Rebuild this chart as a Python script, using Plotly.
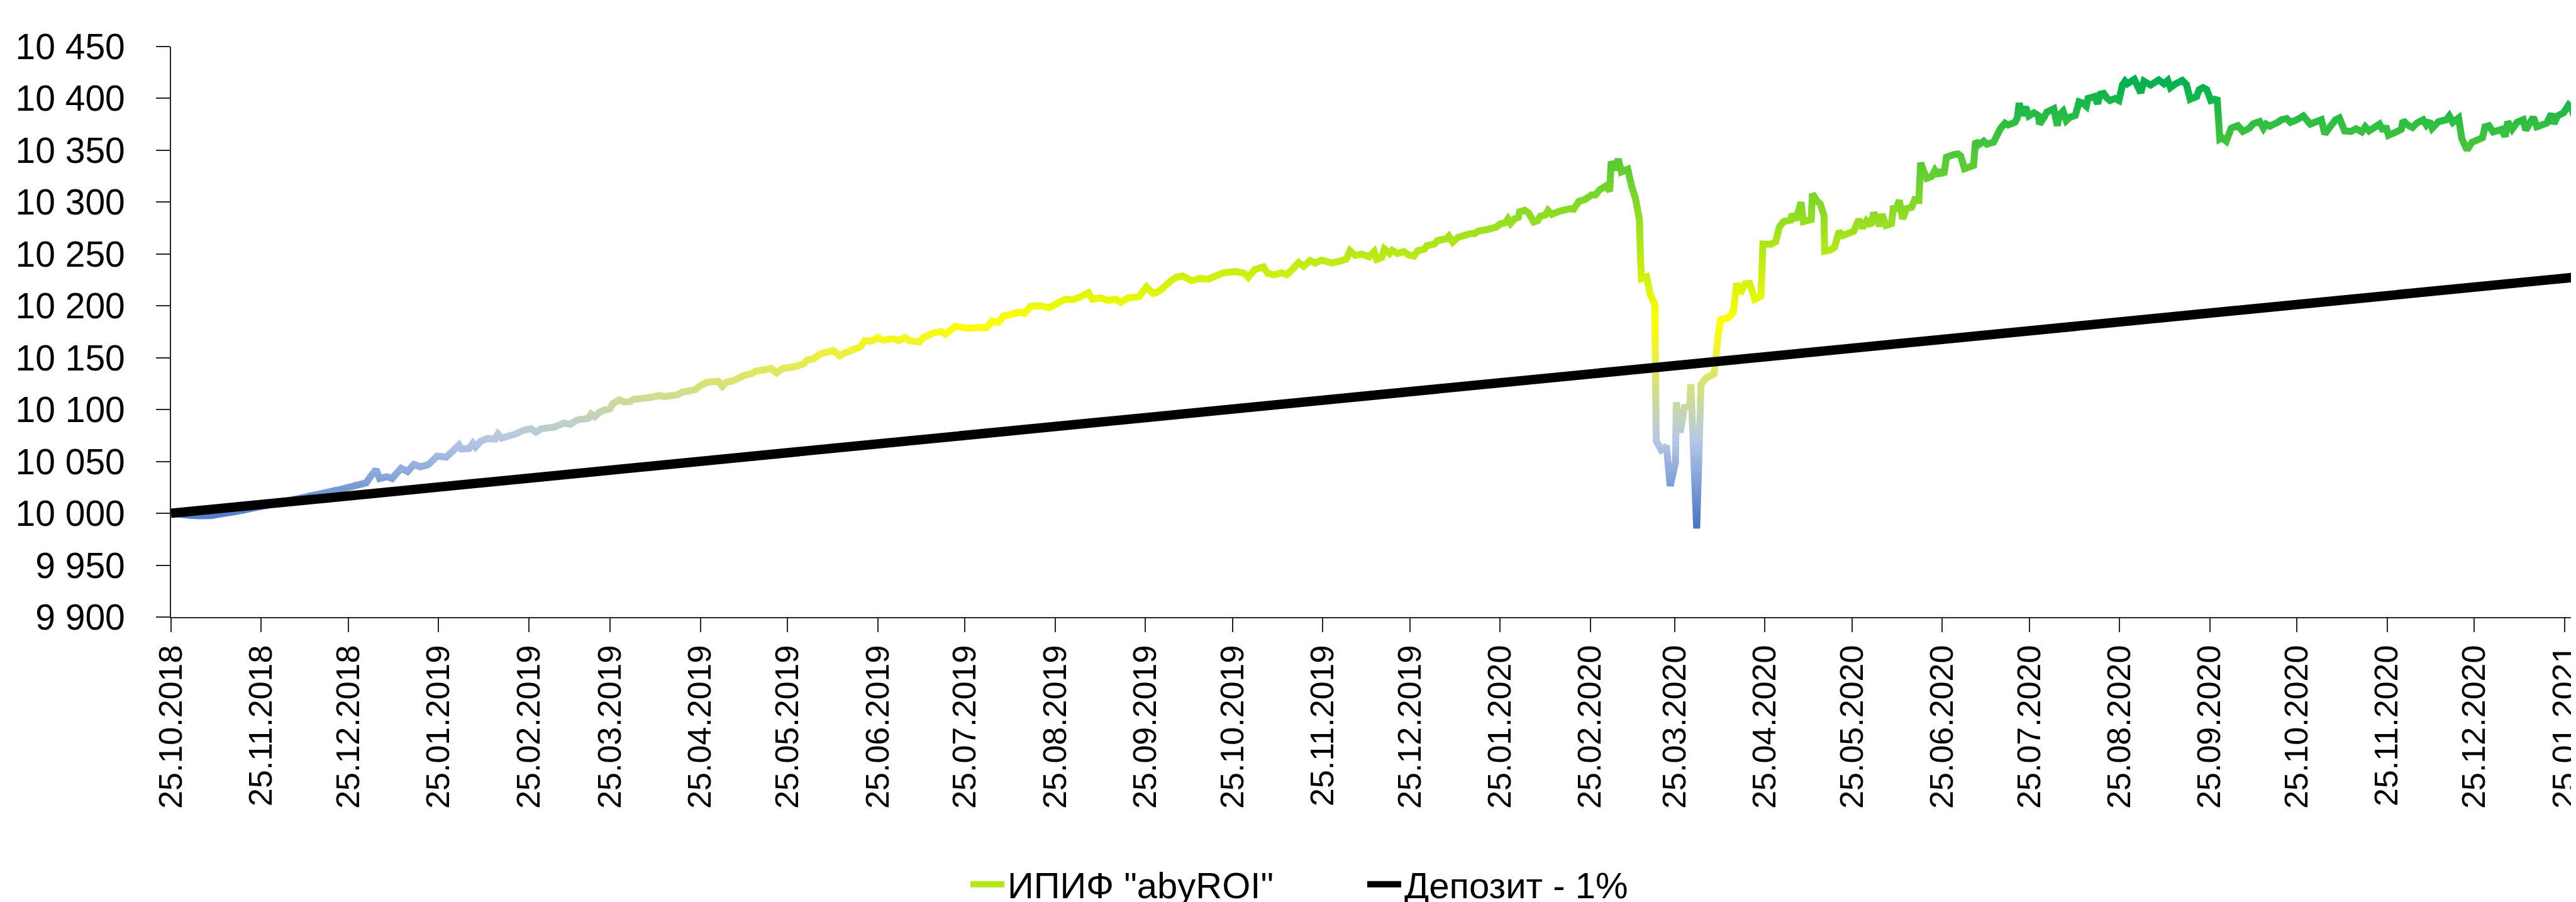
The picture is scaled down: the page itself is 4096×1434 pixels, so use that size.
import pandas as pd
import plotly.graph_objects as go

# ---------------- data ----------------
START_DATE = "2018-10-25"

# days since 25.10.2018
fund_days = [
    0, 5.1, 9.5, 13.5, 22.8, 33.4, 45.8, 58.2, 67.1, 68.4,
    70.5, 71.7, 74.2, 76, 79.1, 81.3, 83.5, 85.7, 88.4, 91.5,
    94.6, 97.2, 99, 99.9, 102.5, 103.8, 104.7, 106.5, 108.7, 111.4,
    112.4, 113.6, 118.5, 121.1, 123.8, 125.5, 127.3, 131.7, 135.1, 137.3,
    139.5, 143.5, 144.4, 145.7, 147.1, 148.8, 150.9, 151.9, 154.1, 155.9,
    157.7, 159, 161.7, 165.2, 167.9, 169.6, 174.1, 175.8, 180.3, 182,
    184.2, 188.2, 189.6, 190.9, 193.5, 197.1, 199.7, 201.1, 203.3, 206.4,
    208.2, 210.4, 214.8, 217.5, 218.8, 221, 223.2, 225.4, 227.6, 229.9,
    231.6, 235.2, 237, 238.5, 240.9, 243.1, 244.9, 248.4, 250.2, 252.4,
    253.8, 257.3, 258.6, 262.6, 264.8, 266.2, 267.9, 269.7, 274, 277.4,
    280.5, 282.3, 284.5, 286.3, 288.5, 291.6, 293.4, 295.6, 298.7, 300.5,
    302.2, 304.9, 307.5, 310.2, 312.9, 315.5, 316.8, 319.5, 322.2, 324.8,
    326.6, 329.2, 332.8, 335.4, 337.7, 339.9, 343.9, 345.6, 347.8, 350.9,
    353.6, 356.7, 361.6, 366, 369.1, 370.4, 372.6, 375.6, 377.1, 379.3,
    381.9, 383.7, 385.9, 387.7, 389.5, 391.7, 393.4, 395.7, 399.2, 404.1,
    405.4, 407.2, 409.4, 412, 413.7, 414.6, 416.3, 417.2, 419, 419.9,
    421.7, 423.9, 425.6, 427.4, 428.7, 431, 431.8, 434.5, 435.4, 438.5,
    439.4, 440.7, 442.5, 444.7, 446.9, 448.2, 449.5, 453.1, 455.7, 457.1,
    458.8, 459.7, 460.6, 461.9, 463.3, 463.7, 465.5, 466.8, 468.6, 469.9,
    470.8, 472.6, 473.5, 474.8, 477.4, 481, 482.3, 484.1, 486.3, 488.5,
    489.8, 491.2, 493.4, 494.7, 495.2, 496.5, 497.6, 498.7, 500.9, 502.2,
    503.6, 504.9, 505.3, 505.6, 507.4, 508.6, 510.2, 510.7, 512.4, 514.2,
    515.5, 517.3, 517.6, 518.9, 520.4, 522.2, 522.6, 524.6, 526.1, 527.9,
    530.6, 531.9, 532.8, 535.4, 537.2, 538.4, 539.6, 541.2, 542.8, 544.6,
    546.7, 547.4, 550.2, 551.8, 553, 554.5, 556.9, 557.4, 558.7, 560.5,
    561.3, 564, 564.4, 565.8, 567.1, 568.4, 568.6, 570.6, 572, 573.6,
    574.8, 578.6, 580.4, 581.7, 583, 584.5, 585.5, 587.5, 588.3, 589.7,
    591.6, 592.2, 593.2, 594.3, 595.4, 596.8, 598.5, 599.6, 601, 601.6,
    602.8, 603.7, 605.4, 606.5, 607.6, 608.3, 609.6, 610.5, 613.1, 614.5,
    615.4, 616.7, 619.8, 620.5, 621.6, 623.3, 624.4, 626.7, 627.9, 629.1,
    630.6, 631.7, 634, 634.8, 635.5, 636.4, 637.7, 638.8, 640.6, 642.1,
    642.5, 644.1, 645, 647.4, 648.6, 649.4, 650.6, 651.7, 653, 654.8,
    656.1, 657.4, 658.6, 659.2, 661.4, 662.5, 663.4, 664.5, 665.8, 666.7,
    668.5, 669.8, 671, 671.9, 672.7, 675.1, 677.3, 678.4, 680.7, 683.5,
    685.3, 686.6, 687.5, 689.3, 691.6, 693, 694.3, 696.5, 697.4, 698.7,
    700, 701.4, 702.7, 703.6, 704.5, 705.3, 706.7, 708.4, 710.7, 712.4,
    714.6, 716, 718.2, 719.5, 720.4, 721.7, 724.4, 725.7, 727.5, 728.8,
    731, 733.2, 735.6, 737.7, 739.4, 740.6, 742.4, 744.3, 745.6, 747.4,
    749.6, 751.4, 753.3, 754.5, 755.8, 757.6, 759.4, 760.7, 761.6, 762.5,
    764.7, 766.9, 767.5, 769.1, 770.7, 772.2, 774.4, 775.5, 776.6, 777.5,
    779.7, 782.4, 783.4, 784.6, 786.6, 787.7, 789.5, 791.2, 794.8, 795.7,
    797, 798.5, 801.4, 802.6, 803.5, 805, 806.7, 808.8, 809.7, 812.3,
    813.5, 816.9, 818.5, 819.4, 820.6, 822.7, 824.4, 825.3, 826.5, 828.2,
]

fund_values = [
    10000, 9998.5, 9997.6, 9997.8, 10002, 10008, 10015.5, 10023, 10029.4, 10034.8,
    10042.3, 10033.6, 10035.3, 10033.6, 10043.5, 10040.3, 10047.2, 10044.8, 10046.8, 10055.2,
    10054.2, 10060.9, 10065.9, 10062.1, 10062.6, 10067.6, 10064.1, 10069.6, 10072.1, 10071.6,
    10076.5, 10072.6, 10076.5, 10080, 10081.5, 10078.3, 10081.5, 10083.2, 10087, 10085.8,
    10090, 10091.5, 10095.7, 10093.2, 10097, 10099.4, 10100.7, 10105.7, 10109.4, 10107.4,
    10107.6, 10109.9, 10110.6, 10111.9, 10113.8, 10112.6, 10114.3, 10116.8, 10119.3, 10123,
    10126.3, 10127.3, 10122.5, 10126.3, 10128, 10133, 10134.7, 10137.2, 10138, 10139.7,
    10135.5, 10139.7, 10141.6, 10144.1, 10147.8, 10149.1, 10153.6, 10155.3, 10157, 10152,
    10154.5, 10158.5, 10160.3, 10166.5, 10166, 10169.4, 10166.9, 10168.4, 10166.5, 10169.4,
    10166.5, 10165.2, 10169.4, 10174.4, 10175.2, 10172.7, 10176.4, 10180.1, 10178.5, 10179.1,
    10179.1, 10185.3, 10184.1, 10190.3, 10191.5, 10194, 10192.8, 10199.5, 10200.2, 10199,
    10198.5, 10202.7, 10206.4, 10205.9, 10208.9, 10212.6, 10206.4, 10207.7, 10205.2, 10206.4,
    10203.5, 10207.7, 10208.9, 10218.3, 10211.9, 10214.4, 10224.3, 10227.5, 10228.8, 10224.3,
    10226.3, 10225.8, 10231.7, 10233.2, 10231.3, 10227.5, 10235, 10237.5, 10231.3, 10230,
    10231.7, 10230, 10236.2, 10241.7, 10238.2, 10243.7, 10241.2, 10244.2, 10241.2, 10244.9,
    10253.1, 10248.6, 10249.9, 10247.4, 10252.3, 10244.8, 10246.6, 10254.8, 10250.5, 10253.5,
    10250.5, 10252.3, 10249, 10248.1, 10253, 10254.8, 10258, 10259.7, 10262.9, 10264.7,
    10267.2, 10261.5, 10265.9, 10267.9, 10269.6, 10269.6, 10272.1, 10273.9, 10275.9, 10279.1,
    10280.1, 10283.8, 10279.6, 10283.8, 10285.3, 10290.7, 10292, 10289.5, 10280.8, 10282.1,
    10286.3, 10287.8, 10292, 10288.3, 10291.2, 10293.7, 10293.2, 10300.7, 10302.7, 10306.9,
    10306.9, 10311.8, 10315.6, 10310.6, 10339.1, 10331, 10341.6, 10329.2, 10331.7, 10315.6,
    10303.2, 10283.3, 10246.1, 10226.2, 10227.9, 10211.3, 10201.4, 10069.8, 10061.2, 10064.9,
    10026.4, 10048.8, 10107.1, 10077.8, 10102.1, 10103.3, 10124.4, 9985.5, 10124.4, 10130.6,
    10134.4, 10169.1, 10186.5, 10188.5, 10193.9, 10221.7, 10211.8, 10221.2, 10221.7, 10206.3,
    10209.3, 10259.7, 10259.5, 10262, 10276, 10281.3, 10282.6, 10288.3, 10282.6, 10299.9,
    10281.3, 10283.3, 10308.1, 10301.7, 10298.2, 10286.8, 10252.8, 10254, 10256.5, 10271.9,
    10267.7, 10271.9, 10283.3, 10275.1, 10281.8, 10277.6, 10290, 10276.9, 10288.3, 10277.6,
    10279.3, 10293.7, 10293.7, 10301.7, 10283.8, 10293.7, 10295, 10302.4, 10301.7, 10337.9,
    10329, 10323, 10324.8, 10330.5, 10325.5, 10331, 10326.5, 10343.4, 10345.9, 10346.4,
    10344.6, 10332.2, 10335.4, 10358.8, 10355.3, 10358.8, 10355.8, 10357.8, 10364.5, 10371.2,
    10376.1, 10374.4, 10376.9, 10380.6, 10395.5, 10383.6, 10391.8, 10383.1, 10386.1, 10383.6,
    10375.2, 10381.9, 10386.8, 10390, 10373.7, 10384.3, 10387.6, 10378.6, 10381.9, 10383.6,
    10396.7, 10395.5, 10392.5, 10400, 10401.7, 10395, 10404.2, 10404.9, 10400, 10398,
    10400, 10398, 10412.9, 10416.6, 10414.1, 10418.3, 10405.4, 10416.6, 10412.9, 10417.8,
    10414.1, 10417.3, 10410.4, 10414.1, 10417.3, 10413.4, 10399.2, 10401.7, 10408.4, 10410.4,
    10408.4, 10398, 10399.2, 10398.5, 10360.8, 10362, 10358.8, 10371.2, 10373.7, 10368.2,
    10371.2, 10375.6, 10377.6, 10371.2, 10375.2, 10373.2, 10376.9, 10379.4, 10380.6, 10376.9,
    10379.4, 10383.1, 10375.2, 10377.6, 10379.4, 10365.7, 10372.7, 10379.4, 10381.1, 10368.7,
    10368.2, 10370.7, 10367.7, 10372.7, 10368.7, 10371.9, 10375.2, 10368.7, 10373.2, 10364.5,
    10367, 10370.2, 10378.6, 10374.4, 10371.9, 10376.1, 10379.4, 10374.4, 10378.1, 10371.2,
    10377.6, 10379.4, 10383.1, 10376.9, 10381.1, 10361.3, 10350.3, 10357.8, 10362, 10372.7,
    10373.7, 10367.7, 10370.2, 10363.2, 10377.6, 10370.2, 10376.9, 10379.4, 10369.4, 10381.9,
    10372.7, 10376.1, 10385.1, 10375.6, 10383.1, 10386.1, 10393.5, 10391, 10381.9, 10381.1,
]

deposit_days = [0, 828]
deposit_values = [10000, 10228]

fund_name = 'ИПИФ "abyROI"'
deposit_name = "Депозит - 1%"

y_tick_values = [9900, 9950, 10000, 10050, 10100, 10150, 10200, 10250,
                 10300, 10350, 10400, 10450]
y_tick_labels = ["9 900", "9 950", "10 000", "10 050", "10 100", "10 150",
                 "10 200", "10 250", "10 300", "10 350", "10 400", "10 450"]
x_tick_labels = [
    "25.10.2018", "25.11.2018", "25.12.2018", "25.01.2019", "25.02.2019",
    "25.03.2019", "25.04.2019", "25.05.2019", "25.06.2019", "25.07.2019",
    "25.08.2019", "25.09.2019", "25.10.2019", "25.11.2019", "25.12.2019",
    "25.01.2020", "25.02.2020", "25.03.2020", "25.04.2020", "25.05.2020",
    "25.06.2020", "25.07.2020", "25.08.2020", "25.09.2020", "25.10.2020",
    "25.11.2020", "25.12.2020", "25.01.2021",
]

# vertical colour gradient of the fund line (value -> colour stops)
gradient_values = [9985, 10070, 10185, 10419]
gradient_colors = ["#4472C4", "#B4C7E7", "#FFFF00", "#00B050"]

# ---------------- layout constants ----------------
W, H = 4096, 1434
M_L, M_R, M_T, M_B = 264, 0, 66, 461
Y_MIN, Y_MAX = 9900, 10450
X_SPAN_DAYS = 828.7
FONT = "Liberation Sans, Arial, sans-serif"
AXIS_COLOR = "#262626"
FUND_WIDTH = 11
DEPOSIT_WIDTH = 15

start = pd.Timestamp(START_DATE)
fund_x = list(start + pd.to_timedelta(fund_days, unit="D"))
dep_x = start + pd.to_timedelta(deposit_days, unit="D")
x_ticks = pd.to_datetime(x_tick_labels, format="%d.%m.%Y")
x_end = start + pd.Timedelta(days=X_SPAN_DAYS)


def hex_rgb(h):
    h = h.lstrip("#")
    return tuple(int(h[i:i + 2], 16) for i in (0, 2, 4))


def color_at(v):
    if v <= gradient_values[0]:
        c = hex_rgb(gradient_colors[0])
    elif v >= gradient_values[-1]:
        c = hex_rgb(gradient_colors[-1])
    else:
        for i in range(len(gradient_values) - 1):
            v0, v1 = gradient_values[i], gradient_values[i + 1]
            if v0 <= v <= v1:
                t = (v - v0) / (v1 - v0)
                c0, c1 = hex_rgb(gradient_colors[i]), hex_rgb(gradient_colors[i + 1])
                c = [round(c0[j] + (c1[j] - c0[j]) * t) for j in range(3)]
                break
    return f"rgb({c[0]},{c[1]},{c[2]})"


def strip_path(lo, hi, pad):
    """Pieces of the fund line whose segments come near the band [lo, hi]."""
    xs, ys = [], []
    last = None
    for i in range(len(fund_values) - 1):
        v0, v1 = fund_values[i], fund_values[i + 1]
        if min(v0, v1) <= hi + pad and max(v0, v1) >= lo - pad:
            if last != i:
                if xs:
                    xs.append(None)
                    ys.append(None)
                xs.append(fund_x[i])
                ys.append(v0)
            xs.append(fund_x[i + 1])
            ys.append(v1)
            last = i + 1
    return xs, ys


fig = go.Figure()
layout_axes = {}

# The fund line is drawn in thin horizontal bands (each its own y-axis domain);
# each band clips the line and colours it by its height -> vertical gradient.
strip_lo, strip_hi, strip_step = 9975, 10430, 5
edges = list(range(strip_lo, strip_hi + 1, strip_step))
n_strips = len(edges) - 1
legend_strip = min(range(n_strips),
                   key=lambda k: abs((edges[k] + edges[k + 1]) / 2 - 10255))

for k in range(n_strips):
    a, b = edges[k] - 0.4, edges[k + 1] + 0.4
    num = k + 1
    yref = "y" if num == 1 else f"y{num}"
    axkey = "yaxis" if num == 1 else f"yaxis{num}"
    layout_axes[axkey] = dict(
        domain=[(a - Y_MIN) / (Y_MAX - Y_MIN), (b - Y_MIN) / (Y_MAX - Y_MIN)],
        range=[a, b], visible=False, fixedrange=True, anchor="x",
        showgrid=False, zeroline=False,
    )
    xs, ys = strip_path(a, b, 12)
    fig.add_trace(go.Scatter(
        x=xs, y=ys, xaxis="x", yaxis=yref, mode="lines",
        line=dict(color=color_at((edges[k] + edges[k + 1]) / 2),
                  width=FUND_WIDTH, simplify=False),
        connectgaps=False,
        name=fund_name, showlegend=(k == legend_strip), legendrank=1,
        hoverinfo="skip",
    ))

main_num = n_strips + 1
main_ref = f"y{main_num}"
layout_axes[f"yaxis{main_num}"] = dict(
    domain=[0, 1], range=[Y_MIN, Y_MAX], anchor="x",
    tickmode="array", tickvals=y_tick_values, ticktext=y_tick_labels,
    ticks="outside", ticklen=22, tickwidth=1.6, tickcolor=AXIS_COLOR,
    showline=True, linecolor=AXIS_COLOR, linewidth=1.6,
    showgrid=False, zeroline=False, fixedrange=True, ticklabelstandoff=38,
    tickfont=dict(family=FONT, size=57, color="black"),
)

fig.add_trace(go.Scatter(
    x=dep_x, y=deposit_values, xaxis="x", yaxis=main_ref, mode="lines",
    line=dict(color="black", width=DEPOSIT_WIDTH), name=deposit_name,
    legendrank=2, hoverinfo="skip",
))

fig.update_layout(
    width=W, height=H,
    margin=dict(l=M_L, r=M_R, t=M_T, b=M_B, autoexpand=False),
    paper_bgcolor="white", plot_bgcolor="rgba(0,0,0,0)",
    font=dict(family=FONT, color="black"),
    hovermode=False,
    xaxis=dict(
        type="date", range=[start, x_end], domain=[0, 1], anchor=main_ref,
        tickmode="array", tickvals=x_ticks, ticktext=x_tick_labels,
        tickangle=-90, ticks="outside", ticklen=22, tickwidth=1.6,
        tickcolor=AXIS_COLOR, showline=True, linecolor=AXIS_COLOR,
        linewidth=1.6, showgrid=False, zeroline=False, fixedrange=True,
        ticklabelstandoff=0, ticklabeloverflow="allow",
        tickfont=dict(family=FONT, size=52, color="black"),
    ),
    legend=dict(
        orientation="h", x=(1530 - M_L) / (W - M_L - M_R), xanchor="left",
        y=(H - M_B - 1398) / (H - M_T - M_B), yanchor="middle",
        font=dict(family=FONT, size=58, color="black"),
        itemwidth=54, entrywidth=562, bgcolor="rgba(0,0,0,0)",
        traceorder="normal",
    ),
    **layout_axes,
)

fig.write_html("out.html", config={"displayModeBar": False})
